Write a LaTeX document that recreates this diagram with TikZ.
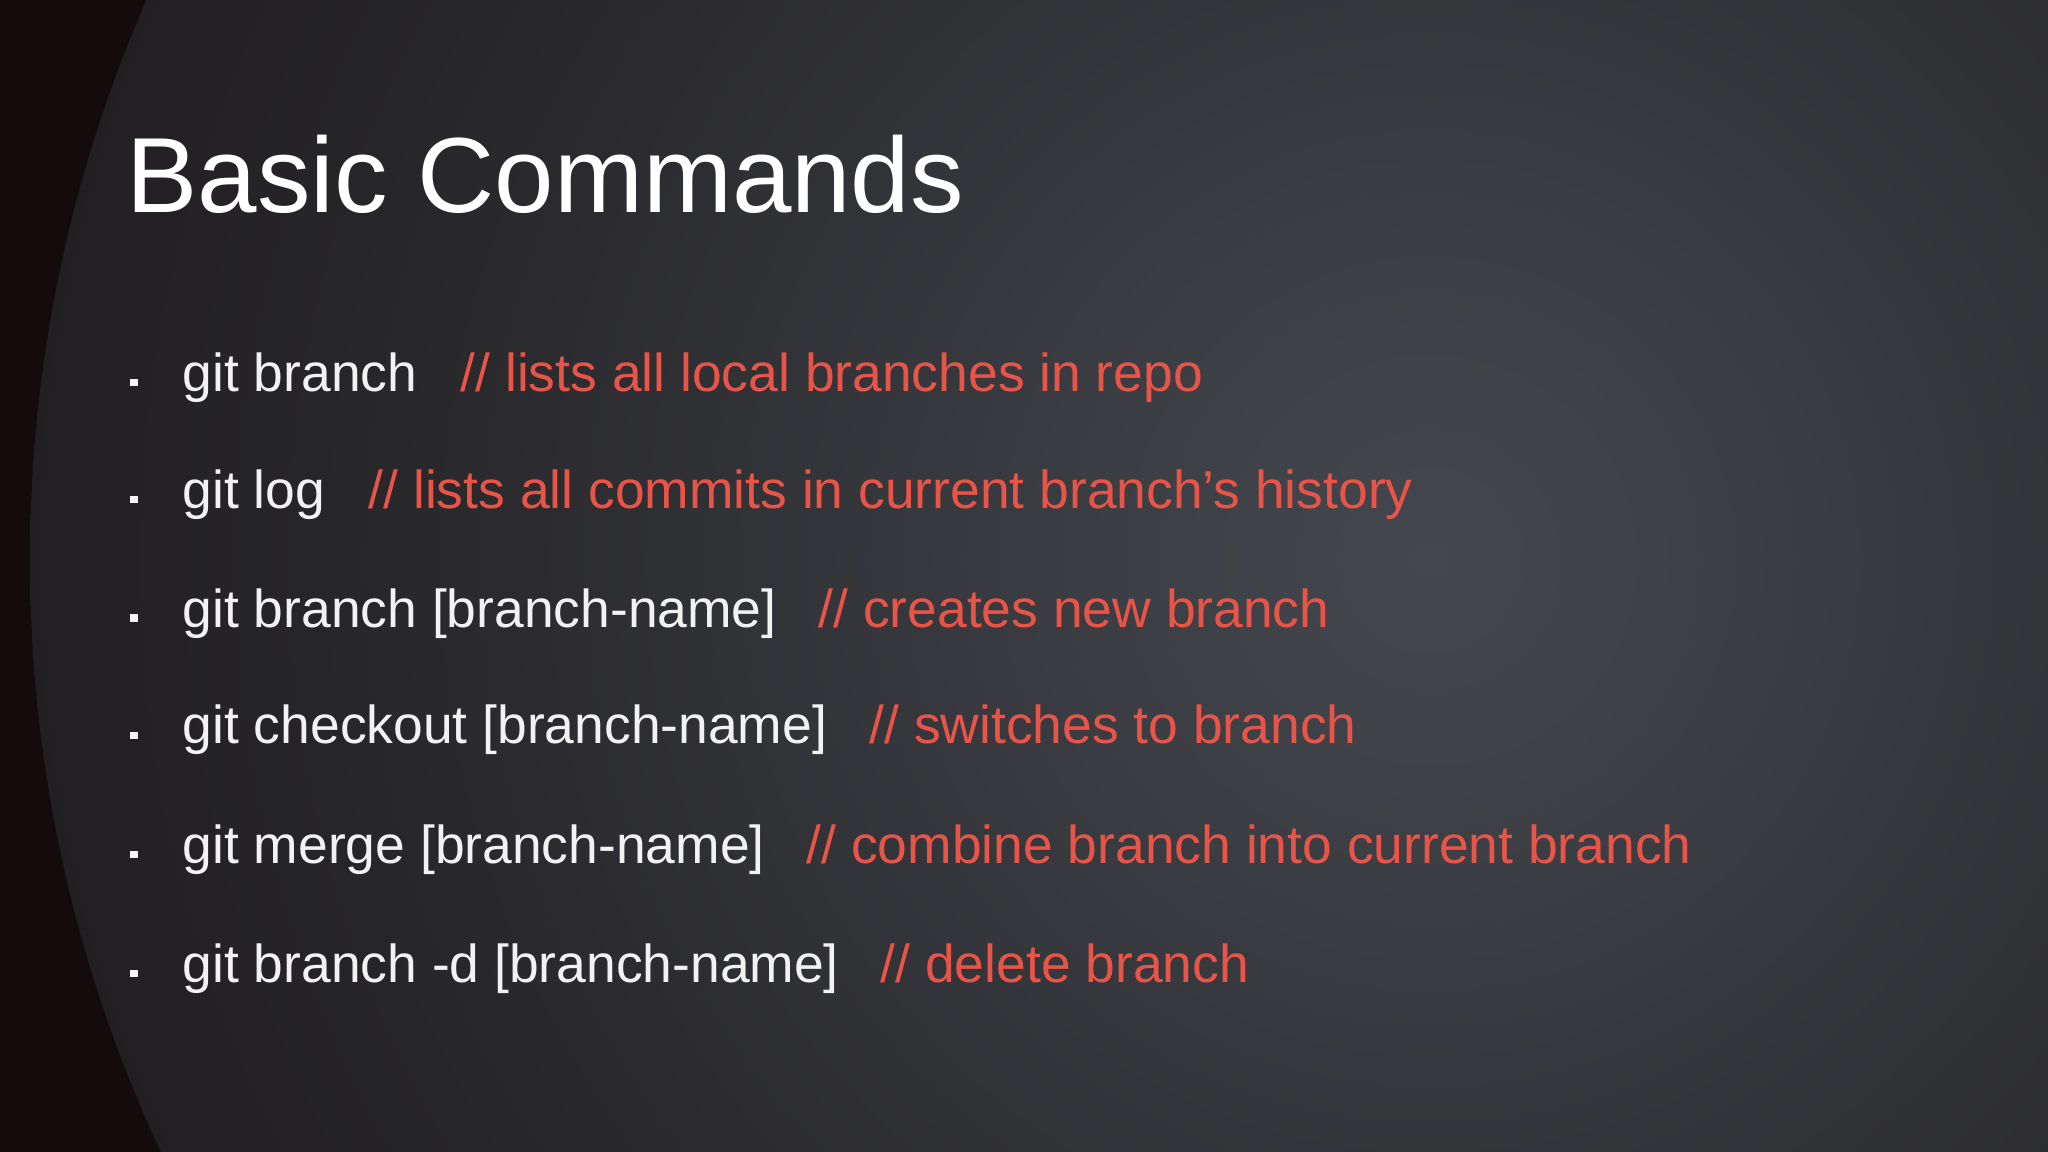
\documentclass[tikz,border=0pt]{standalone}
\usepackage{fontspec}
\setmainfont{Liberation Sans}
\definecolor{bgdark}{RGB}{20,12,12}
\definecolor{bgmid}{RGB}{38,37,40}
\definecolor{bglight}{RGB}{68,72,78}
\definecolor{cmd}{RGB}{242,242,242}
\definecolor{note}{RGB}{232,84,72}
\pgfdeclareradialshading{bgshade}{\pgfpoint{0bp}{0bp}}{color(0bp)=(bglight); color(20bp)=(bgmid); color(42bp)=(bgdark); color(50bp)=(bgdark)}
\tikzset{
  cmdtext/.style={anchor=base west, inner sep=0pt, text=cmd, font=\fontsize{15.2pt}{17pt}\selectfont},
  notetext/.style={anchor=base west, inner sep=0pt, text=note, font=\fontsize{15.2pt}{17pt}\selectfont},
  bulletbox/.style={fill=cmd!85, minimum size=0.07cm, inner sep=0pt},
}
\begin{document}
\begin{tikzpicture}[x=1cm,y=-1cm]
\useasboundingbox (0,0) rectangle (20.48,11.52);
\begin{scope}
\clip (0,0) rectangle (20.48,11.52);
\fill[bgdark] (0,0) rectangle (20.48,11.52);
\shade[shading=bgshade] (14.3,5.6) circle (14);
\end{scope}
\node[anchor=base west, inner sep=0pt, text=white, font=\fontsize{30.4pt}{34pt}\selectfont] (title) at (1.26,2.13) {Basic Commands};
\foreach \y/\c/\nx/\n [count=\i] in {
 3.92/{git branch}/4.60/{// lists all local branches in repo},
 5.09/{git log}/3.68/{// lists all commits in current branch’s history},
 6.27/{git branch [branch-name]}/8.18/{// creates new branch},
 7.44/{git checkout [branch-name]}/8.69/{// switches to branch},
 8.63/{git merge [branch-name]}/8.06/{// combine branch into current branch},
 9.82/{git branch -d [branch-name]}/8.80/{// delete branch}}{
  \node[bulletbox] (b\i) at (1.34,\y-0.09) {};
  \node[cmdtext] (c\i) at (1.82,\y) {\c};
  \node[notetext] (n\i) at (\nx,\y) {\n};
}
\end{tikzpicture}
\end{document}
